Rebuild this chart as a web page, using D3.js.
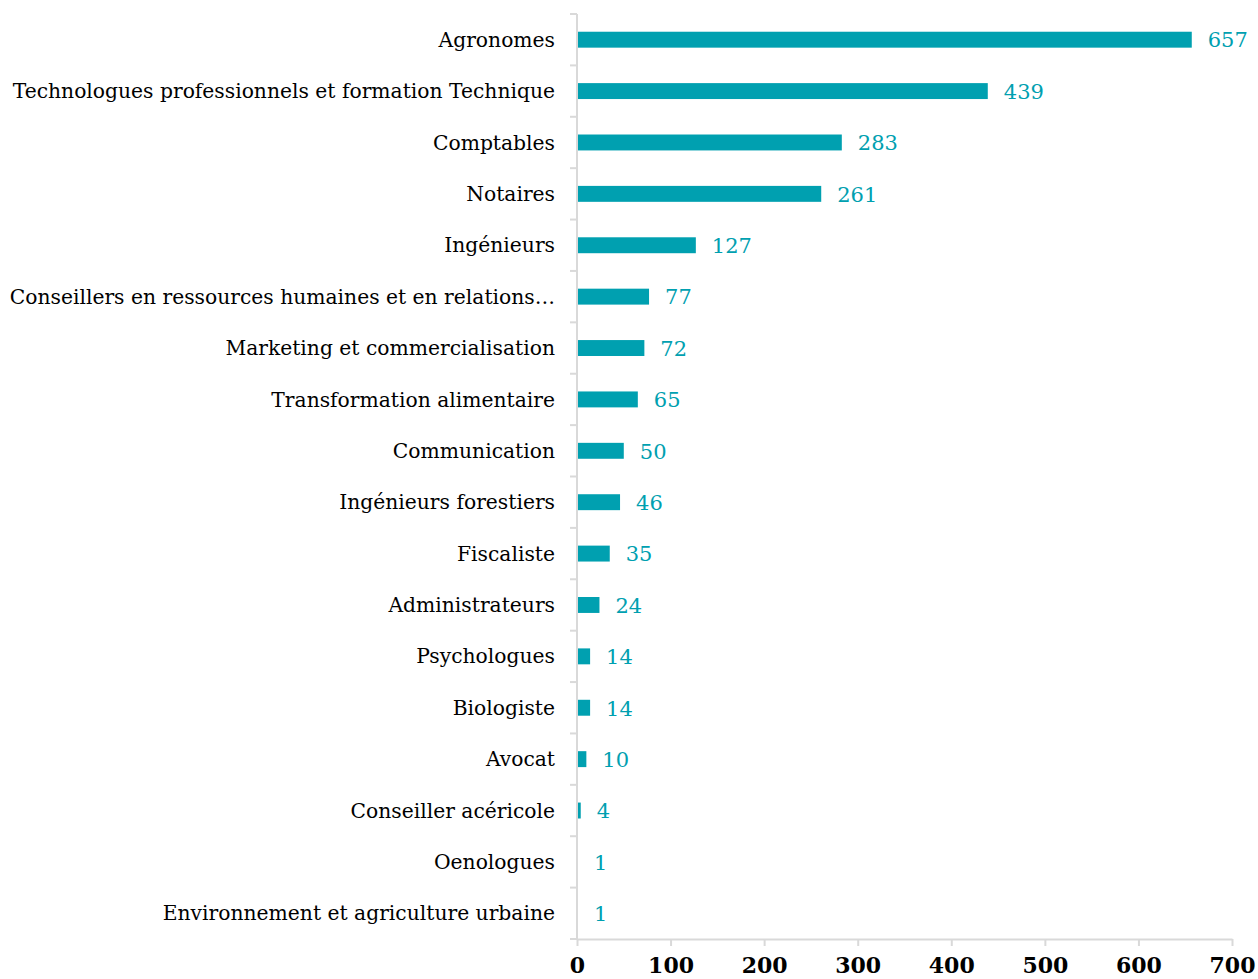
<!DOCTYPE html>
<html>
<head>
<meta charset="utf-8">
<script src="https://cdn.jsdelivr.net/npm/d3@7"></script>
<style>
  html, body { margin: 0; padding: 0; background: #fff; }
  svg { display: block; }
</style>
</head>
<body>
<svg id="chart" width="1258" height="979"></svg>
<script>
const categories = [
  "Agronomes",
  "Technologues professionnels et formation Technique",
  "Comptables",
  "Notaires",
  "Ingénieurs",
  "Conseillers en ressources humaines et en relations…",
  "Marketing et commercialisation",
  "Transformation alimentaire",
  "Communication",
  "Ingénieurs forestiers",
  "Fiscaliste",
  "Administrateurs",
  "Psychologues",
  "Biologiste",
  "Avocat",
  "Conseiller acéricole",
  "Oenologues",
  "Environnement et agriculture urbaine"
];
const values = [657, 439, 283, 261, 127, 77, 72, 65, 50, 46, 35, 24, 14, 14, 10, 4, 1, 1];
const xTicks = [0, 100, 200, 300, 400, 500, 600, 700];

const barColor = "#00A0B0";
const axisColor = "#D9D9D9";
const fontFamily = "'DejaVu Serif', 'Liberation Serif', serif";

const svg = d3.select("#chart");
const plotLeft = 577, plotRight = 1232, plotTop = 14, plotBottom = 939;

const x = d3.scaleLinear().domain([0, 700]).range([plotLeft, plotRight]);
const y = d3.scaleBand().domain(categories).range([plotTop, plotBottom]).paddingInner(0.69).paddingOuter(0.345);
const step = y.step();
const yBand = d3.scaleBand().domain(categories).range([plotTop, plotBottom]).padding(0);

// Bars
svg.append("g").selectAll("rect")
  .data(categories)
  .join("rect")
  .attr("x", x(0))
  .attr("y", d => y(d))
  .attr("width", (d, i) => Math.max(0, x(values[i]) - x(0)))
  .attr("height", y.bandwidth())
  .attr("fill", barColor);

// Y axis line and ticks at band boundaries
const gy = svg.append("g");
gy.append("line")
  .attr("x1", plotLeft).attr("x2", plotLeft)
  .attr("y1", plotTop).attr("y2", plotBottom)
  .attr("stroke", axisColor).attr("stroke-width", 2);
const boundaries = categories.map(d => yBand(d)).concat([plotBottom]);
gy.selectAll("line.tick")
  .data(boundaries)
  .join("line")
  .attr("class", "tick")
  .attr("x1", plotLeft - 7).attr("x2", plotLeft)
  .attr("y1", d => d).attr("y2", d => d)
  .attr("stroke", axisColor).attr("stroke-width", 2);

// Category labels
svg.append("g").selectAll("text")
  .data(categories)
  .join("text")
  .attr("x", 555)
  .attr("y", d => yBand(d) + step / 2)
  .attr("dy", "0.35em")
  .attr("text-anchor", "end")
  .attr("font-family", fontFamily)
  .attr("font-size", 20.3)
  .attr("fill", "#000")
  .text(d => d);

// Value labels
svg.append("g").selectAll("text")
  .data(categories)
  .join("text")
  .attr("x", (d, i) => x(values[i]) + 16)
  .attr("y", d => yBand(d) + step / 2)
  .attr("dy", "0.37em")
  .attr("text-anchor", "start")
  .attr("font-family", fontFamily)
  .attr("font-size", 21)
  .attr("fill", barColor)
  .text((d, i) => values[i]);

// X axis
const gx = svg.append("g").attr("transform", `translate(0,${plotBottom})`);
gx.call(d3.axisBottom(x).tickValues(xTicks).tickSize(7).tickPadding(11).tickSizeOuter(0));
gx.select(".domain").attr("stroke", axisColor).attr("stroke-width", 2);
gx.selectAll(".tick line").attr("stroke", axisColor).attr("stroke-width", 2);
gx.selectAll(".tick text")
  .attr("font-family", fontFamily)
  .attr("font-size", 22)
  .attr("font-weight", "bold")
  .attr("fill", "#000");
</script>
</body>
</html>
